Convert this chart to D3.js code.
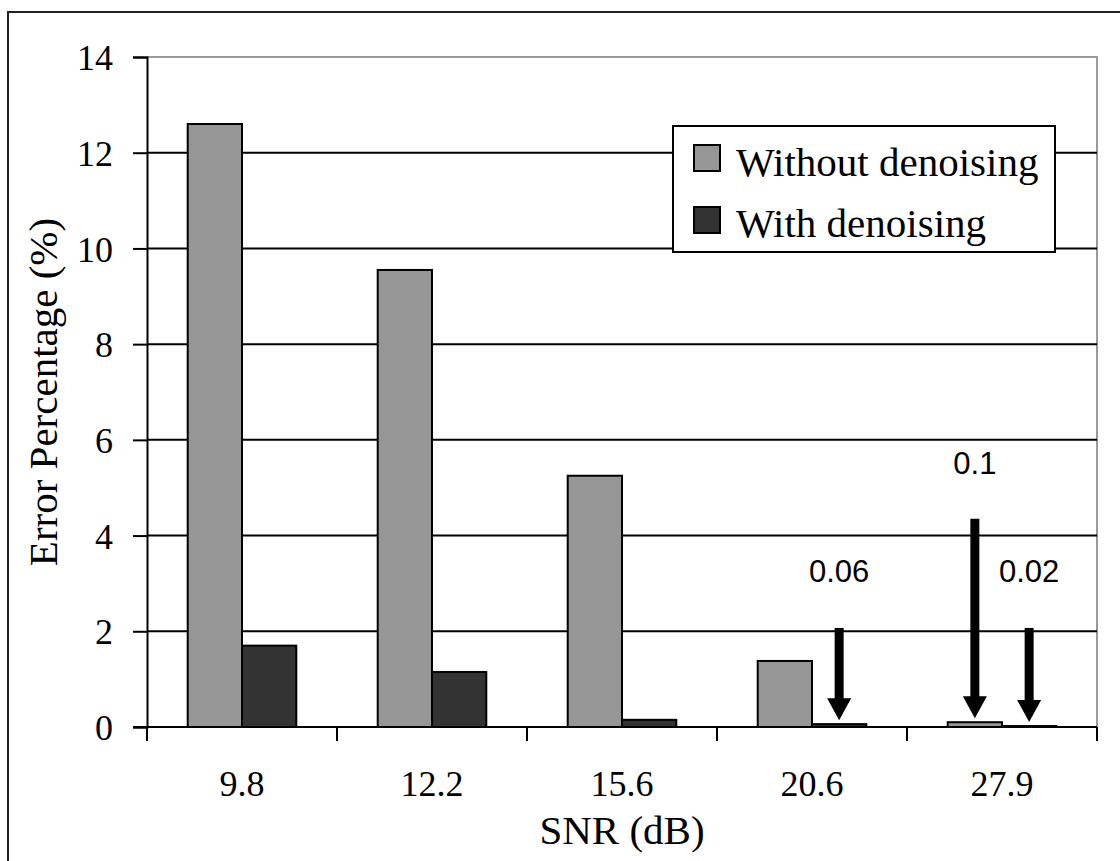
<!DOCTYPE html>
<html>
<head>
<meta charset="utf-8">
<script src="https://cdn.jsdelivr.net/npm/d3@7"></script>
<style>
  html, body { margin: 0; padding: 0; background: #fff; }
  svg { display: block; }
</style>
</head>
<body>
<svg id="chart" width="1120" height="861"></svg>
<script>
// ---- data ----
const categories = ["9.8", "12.2", "15.6", "20.6", "27.9"];
const seriesNames = ["Without denoising", "With denoising"];
const withoutDenoising = [12.6, 9.55, 5.25, 1.38, 0.1];
const withDenoising = [1.7, 1.15, 0.15, 0.06, 0.02];
const yTicks = [0, 2, 4, 6, 8, 10, 12, 14];
const xTitle = "SNR (dB)";
const yTitle = "Error Percentage (%)";
// annotations: which bar, the label, label height and arrow start (data units)
const annotations = [
  { cat: "20.6", series: 1, text: "0.06", labelAt: 3.02, arrowFrom: 2.07 },
  { cat: "27.9", series: 0, text: "0.1",  labelAt: 5.28, arrowFrom: 4.35 },
  { cat: "27.9", series: 1, text: "0.02", labelAt: 3.02, arrowFrom: 2.07 }
];

// ---- layout ----
const plot = { left: 147, right: 1097, top: 57, bottom: 727 };
const colors = ["#969696", "#333333"];
const serif = "'Liberation Serif', 'Times New Roman', serif";
const sans = "'Liberation Sans', Arial, sans-serif";

const svg = d3.select("#chart");
svg.append("rect").attr("width", 1120).attr("height", 861).attr("fill", "#fff");
// outer frame
svg.append("rect").attr("x", 8).attr("y", 12).attr("width", 1200).attr("height", 1000)
  .attr("fill", "none").attr("stroke", "#222").attr("stroke-width", 2);

const x0 = d3.scaleBand().domain(categories).range([plot.left, plot.right]).paddingInner(0).paddingOuter(0);
const x1 = d3.scaleBand().domain([0, 1]).range([0, x0.bandwidth()]).paddingInner(0).paddingOuter(0.75);
const y = d3.scaleLinear().domain([0, 14]).range([plot.bottom, plot.top]);

const series = [withoutDenoising, withDenoising];

// plot area border (top & right, gray)
svg.append("path")
  .attr("d", `M${plot.left},${plot.top}H${plot.right}V${plot.bottom}`)
  .attr("fill", "none").attr("stroke", "#999").attr("stroke-width", 2);

// gridlines
svg.append("g").selectAll("line")
  .data(yTicks.filter(t => t > 0 && t < 14))
  .join("line")
  .attr("x1", plot.left).attr("x2", plot.right)
  .attr("y1", d => y(d)).attr("y2", d => y(d))
  .attr("stroke", "#000").attr("stroke-width", 2);

// y axis
const yAxis = d3.axisLeft(y).tickValues(yTicks).tickSize(14).tickPadding(20).tickFormat(d3.format("d"));
const gy = svg.append("g").attr("transform", `translate(${plot.left},0)`).call(yAxis);
gy.select(".domain").attr("stroke", "#000").attr("stroke-width", 2);
gy.selectAll(".tick line").attr("stroke", "#000").attr("stroke-width", 2);
gy.selectAll(".tick text").attr("font-family", serif).attr("font-size", 36).attr("fill", "#000")
  .attr("dy", "0.35em");

// bars
const groups = svg.append("g").selectAll("g")
  .data(categories)
  .join("g")
  .attr("transform", d => `translate(${x0(d)},0)`);
groups.selectAll("rect")
  .data((d, i) => series.map((s, k) => ({ k, v: s[i] })))
  .join("rect")
  .attr("x", d => x1(d.k))
  .attr("width", x1.bandwidth())
  .attr("y", d => y(d.v))
  .attr("height", d => y(0) - y(d.v))
  .attr("fill", d => colors[d.k])
  .attr("stroke", "#000").attr("stroke-width", 2);

// x axis
const xAxis = d3.axisBottom(x0).tickSize(0).tickPadding(43);
const gx = svg.append("g").attr("transform", `translate(0,${plot.bottom})`).call(xAxis);
gx.select(".domain").remove();
gx.selectAll(".tick text").attr("font-family", serif).attr("font-size", 36).attr("fill", "#000")
  .attr("dy", "0.71em");
// zero line + tick marks between categories
svg.append("line").attr("x1", plot.left - 14).attr("x2", plot.right)
  .attr("y1", plot.bottom).attr("y2", plot.bottom).attr("stroke", "#000").attr("stroke-width", 2);
const bounds = categories.map(c => x0(c)).concat([x0(categories[categories.length - 1]) + x0.bandwidth()]);
svg.append("g").selectAll("line").data(bounds).join("line")
  .attr("x1", d => d).attr("x2", d => d)
  .attr("y1", plot.bottom).attr("y2", plot.bottom + 14)
  .attr("stroke", "#000").attr("stroke-width", 2);

// axis titles
svg.append("text").attr("x", (plot.left + plot.right) / 2).attr("y", 844)
  .attr("text-anchor", "middle").attr("font-family", serif).attr("font-size", 41).text(xTitle);
svg.append("text")
  .attr("transform", `translate(57,${(plot.top + plot.bottom) / 2}) rotate(-90)`)
  .attr("text-anchor", "middle").attr("font-family", serif).attr("font-size", 41).text(yTitle);

// annotations (arrows + labels)
const ann = svg.append("g");
annotations.forEach(a => {
  const i = categories.indexOf(a.cat);
  const v = series[a.series][i];
  const cx = x0(a.cat) + x1(a.series) + x1.bandwidth() / 2;
  const tip = y(v) - 4;
  const headH = 22, headW = 12;
  ann.append("line").attr("x1", cx).attr("x2", cx)
    .attr("y1", y(a.arrowFrom)).attr("y2", tip - headH + 2)
    .attr("stroke", "#000").attr("stroke-width", 9);
  ann.append("path")
    .attr("d", `M${cx},${tip}L${cx - headW},${tip - headH}L${cx + headW},${tip - headH}Z`)
    .attr("fill", "#000");
  ann.append("text").attr("x", cx).attr("y", y(a.labelAt))
    .attr("text-anchor", "middle").attr("font-family", sans).attr("font-size", 31)
    .attr("fill", "#000").text(a.text);
});

// legend
const lg = svg.append("g").attr("transform", "translate(673,126)");
lg.append("rect").attr("width", 382).attr("height", 126)
  .attr("fill", "#fff").attr("stroke", "#000").attr("stroke-width", 2);
seriesNames.forEach((name, k) => {
  lg.append("rect").attr("x", 21).attr("y", 19 + k * 62).attr("width", 26).attr("height", 26)
    .attr("fill", colors[k]).attr("stroke", "#000").attr("stroke-width", 2);
  lg.append("text").attr("x", 63).attr("y", 50 + k * 61)
    .attr("font-family", serif).attr("font-size", 41).attr("fill", "#000").text(name);
});
</script>
</body>
</html>
